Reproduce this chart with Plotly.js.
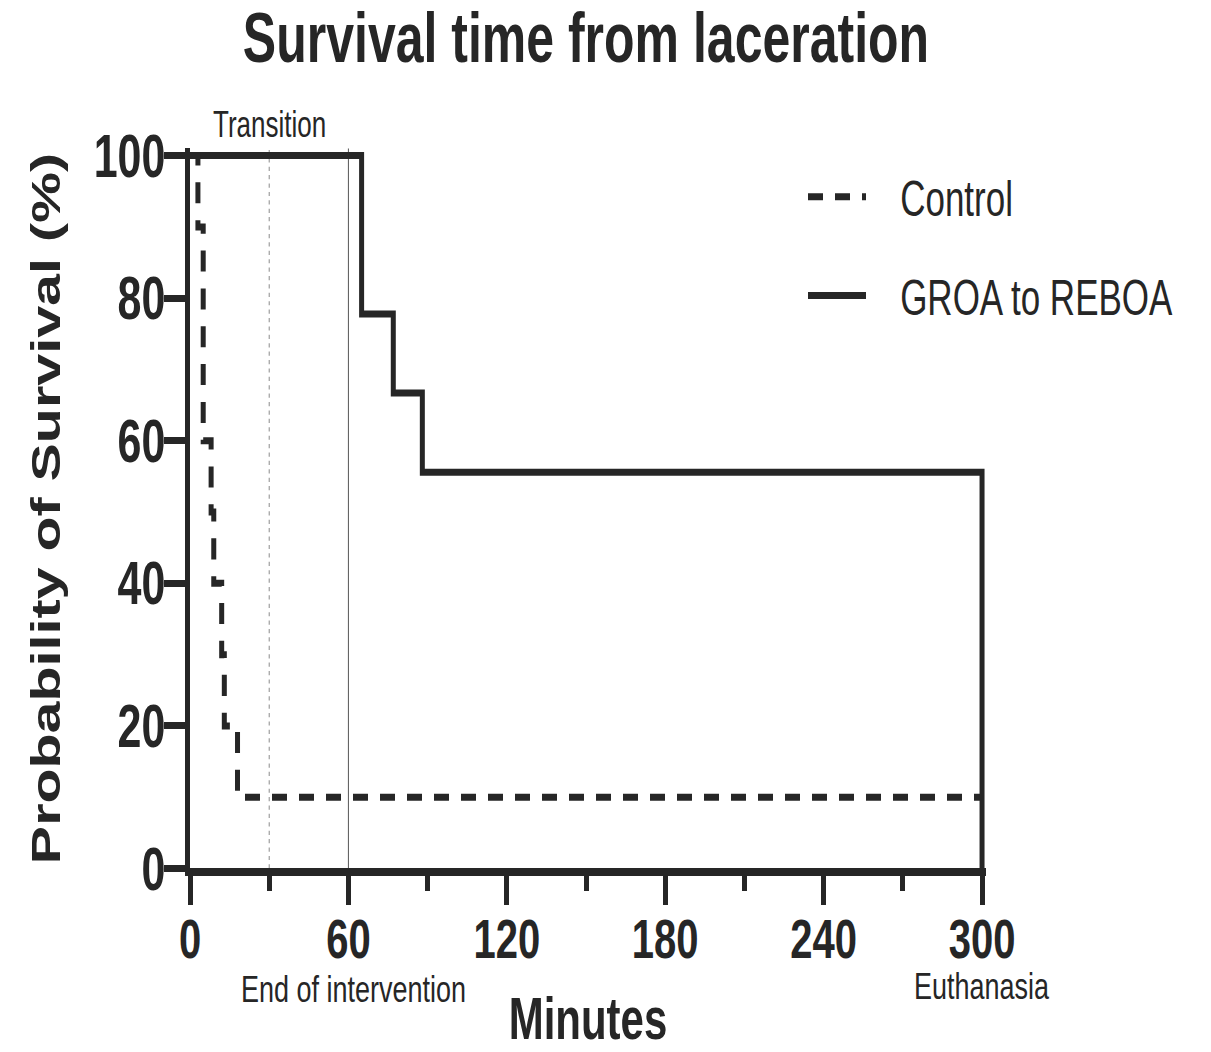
<!DOCTYPE html>
<html>
<head>
<meta charset="utf-8">
<script src="https://cdn.plot.ly/plotly-3.0.1.min.js"></script>
<style>
  html, body { margin: 0; padding: 0; background: #fff; }
  body { width: 1211px; height: 1052px; overflow: visible; }
  /* the figure is laid out at a shorter height and stretched vertically */
  #wrap { width: 1211px; height: 751px; transform: scaleY(1.4008); transform-origin: 0 0; }
</style>
</head>
<body>
<div id="wrap"><div id="chart"></div></div>
<script>
// Kaplan-Meier steps (minutes from laceration, % surviving)
const controlMinutes = [0, 3, 5, 8, 9, 12, 13, 18, 300];
const controlSurvival = [100, 90, 60, 50, 40, 30, 20, 10, 10];
const groaMinutes = [0, 65, 77, 88, 300];
const groaSurvival = [100, 77.8, 66.7, 55.6, 0];
const seriesNames = ['Control', 'GROA to REBOA'];

const xTickValues = [0, 60, 120, 180, 240, 300];
const yTickValues = [0, 20, 40, 60, 80, 100];

// protocol phase markers
const transitionMinute = 30;
const interventionEndMinute = 60;
const euthanasiaMinute = 300;
const phaseLabels = ['Transition', 'End of intervention', 'Euthanasia'];

const ink = '#262626';
const font = 'Liberation Sans, Arial, Helvetica, sans-serif';
const legendPad = '\u00a0\u00a0\u00a0';

const traces = [
  {
    x: controlMinutes, y: controlSurvival, name: legendPad + seriesNames[0],
    type: 'scatter', mode: 'lines', line: { shape: 'hv', color: ink, width: 5, dash: '15px,12px' },
    cliponaxis: false, legendgroup: 'a'
  },
  {
    x: groaMinutes, y: groaSurvival, name: legendPad + seriesNames[1],
    type: 'scatter', mode: 'lines', line: { shape: 'hv', color: ink, width: 5 },
    cliponaxis: false, legendgroup: 'b'
  }
];

const layout = {
  width: 1211, height: 751,
  margin: { l: 190, r: 225, t: 106, b: 131, pad: 0 },
  paper_bgcolor: '#fff', plot_bgcolor: '#fff',
  font: { family: font, color: ink },
  showlegend: true,
  title: {
    text: 'Survival time from laceration',
    font: { size: 50, weight: 'bold', family: font, color: ink },
    x: 586 / 1211, xref: 'container', xanchor: 'center',
    y: 1 - 27 / 751, yref: 'container', yanchor: 'middle'
  },
  xaxis: {
    range: [0, 301.5], tickvals: xTickValues, showgrid: false, zeroline: false,
    showline: true, linewidth: 5, linecolor: ink,
    ticks: 'outside', ticklen: 21, tickwidth: 5, tickcolor: ink, ticklabelstandoff: -10,
    tickfont: { size: 40, weight: 'bold', family: font, color: ink },
    minor: { dtick: 30, tick0: 0, ticks: 'outside', ticklen: 11, tickwidth: 5, tickcolor: ink, showgrid: false },
    title: { text: 'Minutes', font: { size: 42, weight: 'bold', family: font, color: ink }, standoff: 50 },
    fixedrange: true
  },
  yaxis: {
    range: [0, 101], tickvals: yTickValues, showgrid: false, zeroline: false,
    showline: true, linewidth: 5, linecolor: ink,
    ticks: 'outside', ticklen: 21, tickwidth: 5, tickcolor: ink, ticklabelstandoff: -10,
    tickfont: { size: 43, weight: 'bold', family: font, color: ink },
    title: { text: 'Probability of Survival (%)', font: { size: 41, weight: 'bold', family: font, color: ink }, standoff: 22 },
    fixedrange: true
  },
  legend: {
    x: (803 - 190) / 796, xanchor: 'left', y: 0.99, yanchor: 'top',
    font: { size: 35, family: font, color: ink },
    bgcolor: 'rgba(0,0,0,0)', borderwidth: 0, itemwidth: 58,
    traceorder: 'grouped', tracegroupgap: 22
  },
  shapes: [
    { type: 'line', xref: 'x', yref: 'y', x0: transitionMinute, x1: transitionMinute, y0: 0, y1: 101,
      line: { color: '#8a8a8a', width: 1, dash: 'dot' }, layer: 'below' },
    { type: 'line', xref: 'x', yref: 'y', x0: interventionEndMinute, x1: interventionEndMinute, y0: 0, y1: 102,
      line: { color: '#555', width: 1 }, layer: 'below' }
  ],
  annotations: [
    { text: phaseLabels[0], x: transitionMinute, xref: 'x', y: 1.033, yref: 'paper',
      xanchor: 'center', yanchor: 'middle', showarrow: false, font: { size: 26, family: font, color: ink } },
    { text: phaseLabels[1], x: interventionEndMinute + 2, xref: 'x', y: -0.168, yref: 'paper',
      xanchor: 'center', yanchor: 'middle', showarrow: false, font: { size: 27, family: font, color: ink } },
    { text: phaseLabels[2], x: euthanasiaMinute, xref: 'x', y: -0.163, yref: 'paper',
      xanchor: 'center', yanchor: 'middle', showarrow: false, font: { size: 27, family: font, color: ink } }
  ]
};

Plotly.newPlot('chart', traces, layout, { displayModeBar: false, staticPlot: true });
</script>
</body>
</html>
